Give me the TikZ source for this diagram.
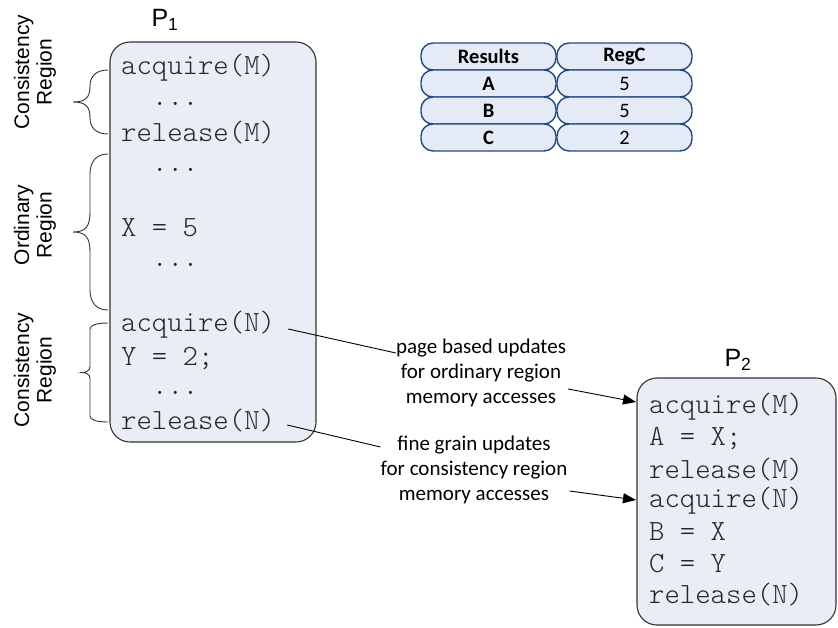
\documentclass[tikz,border=0pt]{standalone}
\usepackage{fontspec}
\setmainfont{Liberation Sans}
\newfontfamily\codefont{Latin Modern Mono Light}
\newfontfamily\notefont{Carlito}
\usetikzlibrary{arrows.meta}

\definecolor{boxfill}{RGB}{232,237,246}
\definecolor{cellfill}{RGB}{228,235,247}
\definecolor{cellline}{RGB}{38,72,128}

\tikzset{
	codebox/.style={draw=black!80, fill=boxfill, line width=1.1pt, rounded corners=20pt, inner sep=0pt},
	codeline/.style={anchor=west, inner sep=0pt, text=black!85, font=\codefont\fontsize{29.3}{30}\selectfont},
	plabel/.style={font=\fontsize{25}{26}\selectfont},
	regionlabel/.style={rotate=90, align=center, font=\fontsize{21}{22.5}\selectfont},
	regionbrace/.style={line width=0.9pt, black!80},
	note/.style={align=center, inner sep=0pt, font=\notefont\fontsize{21}{25}\selectfont},
	cell/.style={draw=cellline, fill=cellfill, line width=1.4pt, rounded corners=12pt, minimum width=135pt, minimum height=27pt, inner sep=0pt, font=\notefont\fontsize{20.5}{21}\selectfont},
	headcell/.style={cell, font=\notefont\bfseries\fontsize{20.5}{21}\selectfont},
	link/.style={line width=0.9pt},
	updarrow/.style={link, -{Triangle[length=13pt,width=10pt]}}
}

\begin{document}
\begin{tikzpicture}[x=1pt,y=-1pt]
	\useasboundingbox (0,0) rectangle (838,627);

	% Processo P1
	\node[codebox, minimum width=206pt, minimum height=400pt] (p1) at (213,242) {};
	\node[plabel] (p1name) at (165,20) {P\textsubscript{1}};
	\node[codeline] (p1acqM) at (121,68) {acquire(M)};
	\node[codeline] (p1dots1) at (152,104) {...};
	\node[codeline] (p1relM) at (121,133) {release(M)};
	\node[codeline] (p1dots2) at (152,170) {...};
	\node[codeline] (p1x) at (121,228) {X = 5};
	\node[codeline] (p1dots3) at (152,265) {...};
	\node[codeline] (p1acqN) at (121,325) {acquire(N)};
	\node[codeline] (p1y) at (121,358) {Y = 2;};
	\node[codeline] (p1dots4) at (152,393) {...};
	\node[codeline] (p1relN) at (121,421) {release(N)};

	% Regioni a sinistra di P1
	\node[regionlabel] (creg1) at (35,72) {Consistency\\Region};
	\node[regionlabel] (oreg) at (35,225) {Ordinary\\Region};
	\node[regionlabel] (creg2) at (35,370) {Consistency\\Region};
	\foreach \yt/\yb/\r/\xt in {70/134/16/73, 154/310/20/73, 323/422/6/82} {
		\pgfmathsetmacro\ym{(\yt+\yb)/2}
		\draw[regionbrace] (108,\yt) .. controls (96,\yt) and (90,\yt+0.4*\r) .. (90,\yt+\r) -- (90,\ym-\r)
			.. controls (90,\ym-0.3*\r) and (86,\ym) .. (\xt,\ym)
			.. controls (86,\ym) and (90,\ym+0.3*\r) .. (90,\ym+\r) -- (90,\yb-\r)
			.. controls (90,\yb-0.4*\r) and (96,\yb) .. (108,\yb);
	}

	% Processo P2
	\node[codebox, minimum width=199pt, minimum height=247pt] (p2) at (736.5,501.5) {};
	\node[plabel] (p2name) at (738,360) {P\textsubscript{2}};
	\node[codeline] (p2acqM) at (649,407) {acquire(M)};
	\node[codeline] (p2a) at (649,438) {A = X;};
	\node[codeline] (p2relM) at (649,470) {release(M)};
	\node[codeline] (p2acqN) at (649,501) {acquire(N)};
	\node[codeline] (p2b) at (649,532) {B = X};
	\node[codeline] (p2c) at (649,564) {C = Y};
	\node[codeline] (p2relN) at (649,595) {release(N)};

	% Tabella dei risultati
	\node[headcell] (tres) at (488.5,56.5) {Results};
	\node[headcell] (treg) at (624.5,56.5) {RegC};
	\node[headcell] (ta) at (488.5,83.5) {A};
	\node[cell] (ta5) at (624.5,83.5) {5};
	\node[headcell] (tb) at (488.5,110.5) {B};
	\node[cell] (tb5) at (624.5,110.5) {5};
	\node[headcell] (tc) at (488.5,137.5) {C};
	\node[cell] (tc2) at (624.5,137.5) {2};

	% Aggiornamenti da P1 a P2
	\node[note] (pgnote) at (481,373) {page based updates\\for ordinary region\\memory accesses};
	\node[note] (fgnote) at (474,470) {fine grain updates\\for consistency region\\memory accesses};
	\draw[link] ([xshift=13pt,yshift=-4pt]p1acqN.east) -- ([yshift=20pt]pgnote.west);
	\draw[updarrow] ([xshift=2pt,yshift=-16pt]pgnote.east) -- ([xshift=-13pt,yshift=5pt]p2acqM.west);
	\draw[link] ([xshift=12pt,yshift=-4pt]p1relN.east) -- ([yshift=23pt]fgnote.west);
	\draw[updarrow] ([xshift=2pt,yshift=-21pt]fgnote.east) -- ([xshift=-13pt,yshift=1pt]p2acqN.west);
\end{tikzpicture}
\end{document}
